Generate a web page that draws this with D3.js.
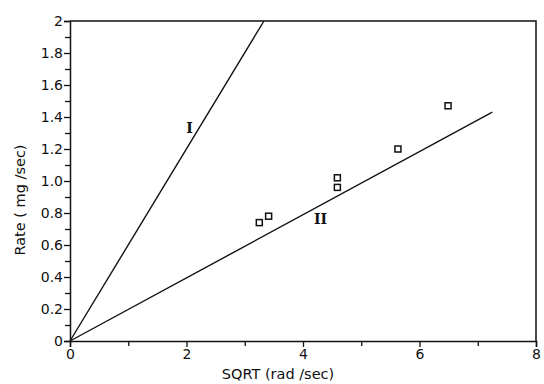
<!DOCTYPE html>
<html>
<head>
<meta charset="utf-8">
<script src="https://cdn.jsdelivr.net/npm/d3@7"></script>
<style>
  html, body { margin: 0; padding: 0; background: #fff; }
  svg { display: block; }
  text { font-family: "DejaVu Sans", "Liberation Sans", sans-serif; fill: #111; }
</style>
</head>
<body>
<svg id="chart" width="544" height="384"></svg>
<script>
// Measured rates against square root of rotation speed
const sqrtSpeed = [3.25, 3.41, 4.59, 4.59, 5.63, 6.49];
const rate      = [0.74, 0.78, 1.02, 0.96, 1.20, 1.47];

// Fitted lines through the origin: [x, y] end points
const lineI  = [[0, 0], [3.33, 2.0]];
const lineII = [[0, 0], [7.25, 1.43]];

// Line labels placed at data coordinates
const lineLabels = [
  { text: "I",  x: 2.05, y: 1.33 },
  { text: "II", x: 4.30, y: 0.76 }
];

const xTicks = [0, 2, 4, 6, 8];
const xMinorTicks = [1, 3, 5, 7];
const yTicks = [0, 0.2, 0.4, 0.6, 0.8, 1.0, 1.2, 1.4, 1.6, 1.8, 2];
const yMinorTicks = [0.1, 0.3, 0.5, 0.7, 0.9, 1.1, 1.3, 1.5, 1.7, 1.9];
const yTickLabels = ["0", "0.2", "0.4", "0.6", "0.8", "1.0", "1.2", "1.4", "1.6", "1.8", "2"];

const svg = d3.select("#chart");
const plotLeft = 70, plotRight = 536, plotTop = 21, plotBottom = 341;

const x = d3.scaleLinear().domain([0, 8]).range([plotLeft, plotRight]);
const y = d3.scaleLinear().domain([0, 2]).range([plotBottom, plotTop]);

// Frame: top and right edges
svg.append("path")
  .attr("d", `M${plotLeft},${plotTop}H${plotRight}V${plotBottom}`)
  .attr("fill", "none").attr("stroke", "#111").attr("stroke-width", 1.5);

// X axis
svg.append("g").attr("transform", `translate(0,${plotBottom})`)
  .call(d3.axisBottom(x).tickValues(xTicks).tickFormat(d3.format("d")).tickSize(6).tickPadding(2));
svg.append("g").attr("transform", `translate(0,${plotBottom})`)
  .call(d3.axisBottom(x).tickValues(xMinorTicks).tickFormat("").tickSize(5))
  .call(g => g.select(".domain").remove());

// Y axis
svg.append("g").attr("transform", `translate(${plotLeft},0)`)
  .call(d3.axisLeft(y).tickValues(yTicks).tickFormat((d, i) => yTickLabels[i]).tickSize(6).tickPadding(1));
svg.append("g").attr("transform", `translate(${plotLeft},0)`)
  .call(d3.axisLeft(y).tickValues(yMinorTicks).tickFormat("").tickSize(5))
  .call(g => g.select(".domain").remove());

svg.selectAll(".domain").attr("stroke", "#111").attr("stroke-width", 1.5);
svg.selectAll(".tick line").attr("stroke", "#111").attr("stroke-width", 1.3);
svg.selectAll(".tick text")
  .style("font-family", "'DejaVu Sans', 'Liberation Sans', sans-serif")
  .style("font-size", "14px").attr("fill", "#111");

// Axis titles
svg.append("text")
  .attr("x", 278).attr("y", 379)
  .attr("text-anchor", "middle")
  .style("font-size", "14.5px")
  .text("SQRT (rad /sec)");

svg.append("text")
  .attr("transform", "translate(25,200) rotate(-90)")
  .attr("text-anchor", "middle")
  .style("font-size", "14.5px")
  .text("Rate ( mg /sec)");

// Fitted lines
const line = d3.line().x(d => x(d[0])).y(d => y(d[1]));
[lineI, lineII].forEach(pts => {
  svg.append("path").attr("d", line(pts))
    .attr("fill", "none").attr("stroke", "#111").attr("stroke-width", 1.4);
});

// Data points: open squares
svg.selectAll("rect.pt")
  .data(sqrtSpeed.map((s, i) => [s, rate[i]]))
  .join("rect")
  .attr("class", "pt")
  .attr("x", d => x(d[0]) - 3).attr("y", d => y(d[1]) - 3)
  .attr("width", 6).attr("height", 6)
  .attr("fill", "#fff").attr("stroke", "#111").attr("stroke-width", 1.5);

// Line labels
svg.selectAll("text.lbl")
  .data(lineLabels)
  .join("text")
  .attr("class", "lbl")
  .attr("x", d => x(d.x)).attr("y", d => y(d.y) + 5)
  .attr("text-anchor", "middle")
  .style("font-family", "'DejaVu Serif', 'Liberation Serif', serif")
  .style("font-weight", "bold")
  .style("font-size", "14px")
  .text(d => d.text);
</script>
</body>
</html>
